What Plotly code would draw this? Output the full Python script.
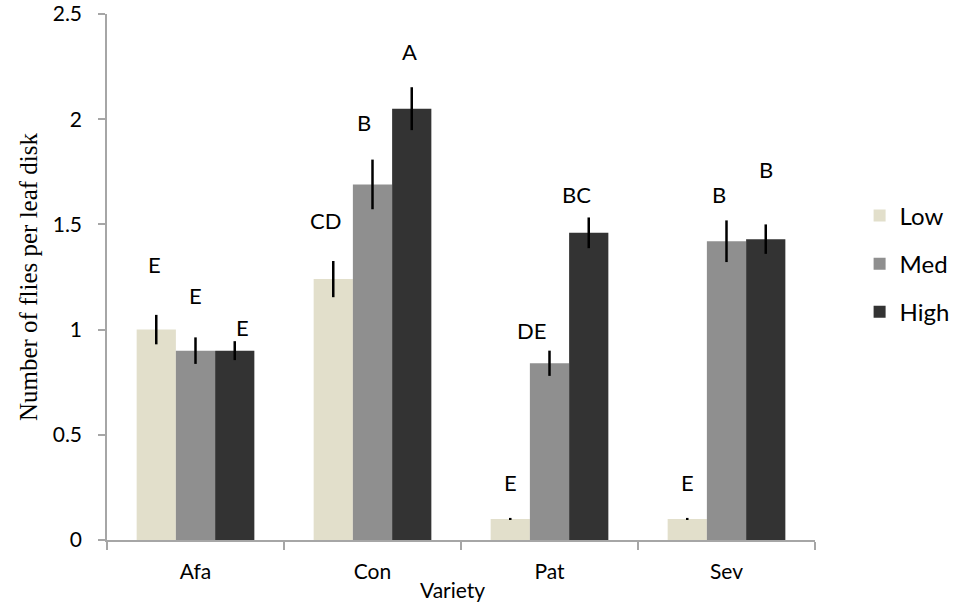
import plotly.graph_objects as go

varieties = ["Afa", "Con", "Pat", "Sev"]
series_names = ["Low", "Med", "High"]
colors = ["#E2DFCB", "#8F8F8F", "#333333"]

low_vals = [1.00, 1.24, 0.10, 0.10]
med_vals = [0.90, 1.69, 0.84, 1.42]
high_vals = [0.90, 2.05, 1.46, 1.43]

low_err = [0.07, 0.086, 0.005, 0.005]
med_err = [0.063, 0.118, 0.06, 0.099]
high_err = [0.045, 0.102, 0.073, 0.07]

low_letters = ["E", "CD", "E", "E"]
med_letters = ["E", "B", "DE", "B"]
high_letters = ["E", "A", "BC", "B"]

# annotation placement (data units for height, pixel shift horizontally)
low_label_y = [1.31, 1.52, 0.272, 0.272]
med_label_y = [1.16, 1.983, 0.998, 1.643]
high_label_y = [1.01, 2.32, 1.643, 1.759]
low_label_dx = [-2, -8, 0, 0]
med_label_dx = [0, -9, -18, -8]
high_label_dx = [8, -2, -12, 0]

y_ticks = [0, 0.5, 1, 1.5, 2, 2.5]

vals = [low_vals, med_vals, high_vals]
errs = [low_err, med_err, high_err]
letters = [low_letters, med_letters, high_letters]
label_y = [low_label_y, med_label_y, high_label_y]
label_dx = [low_label_dx, med_label_dx, high_label_dx]

FONT = "Lato, 'Open Sans', sans-serif"

fig = go.Figure()
for i, name in enumerate(series_names):
    fig.add_trace(go.Bar(
        name=name,
        x=varieties,
        y=vals[i],
        marker=dict(color=colors[i], line=dict(width=0)),
        error_y=dict(type="data", array=errs[i], visible=True,
                     color="#000000", thickness=2.5, width=0),
        legendgroup=name,
        offsetgroup=str(i),
    ))

bar_w_frac = (1 - 0.335) / 3
for i in range(3):
    off = (i - 1) * bar_w_frac
    for j, v in enumerate(varieties):
        fig.add_annotation(
            x=j + off, y=label_y[i][j], xref="x", yref="y",
            text=letters[i][j], showarrow=False,
            xshift=label_dx[i][j],
            font=dict(family=FONT, size=22, color="#000000"),
        )

fig.add_annotation(
    x=(466 - 107) / 736, y=-0.095, xref="paper", yref="paper",
    text="Variety", showarrow=False, yanchor="middle",
    font=dict(family=FONT, size=21, color="#000000"),
)

fig.update_layout(
    width=967, height=607,
    margin=dict(l=107, r=124, t=14, b=67),
    paper_bgcolor="white", plot_bgcolor="white",
    barmode="group", bargap=0.335, bargroupgap=0,
    showlegend=True,
    legend=dict(x=1.063, y=0.525, xanchor="left", yanchor="middle",
                font=dict(family=FONT, size=24, color="#000000"),
                tracegroupgap=14, bgcolor="rgba(0,0,0,0)"),
    xaxis=dict(
        type="category", showline=True, linecolor="#A6A6A6", linewidth=1.5,
        ticks="outside", tickson="boundaries", ticklen=8, tickcolor="#A6A6A6",
        tickwidth=1.5, tickfont=dict(family=FONT, size=21, color="#000000"),
        ticklabelstandoff=12, automargin=False,
        showgrid=False, zeroline=False,
    ),
    yaxis=dict(
        range=[0, 2.5], tickvals=y_ticks, ticktext=[f"{t:g}" for t in y_ticks],
        showline=True, linecolor="#A6A6A6", linewidth=1.5,
        ticks="outside", ticklen=7, tickcolor="#A6A6A6", tickwidth=1.5,
        tickfont=dict(family=FONT, size=21, color="#000000"),
        ticklabelstandoff=12, automargin=False,
        showgrid=False, zeroline=False,
        title=dict(text="Number of flies per leaf disk",
                   font=dict(family="'Liberation Serif', 'Times New Roman', serif",
                             size=25, color="#000000"),
                   standoff=8),
    ),
)

fig.write_html("out.html")
